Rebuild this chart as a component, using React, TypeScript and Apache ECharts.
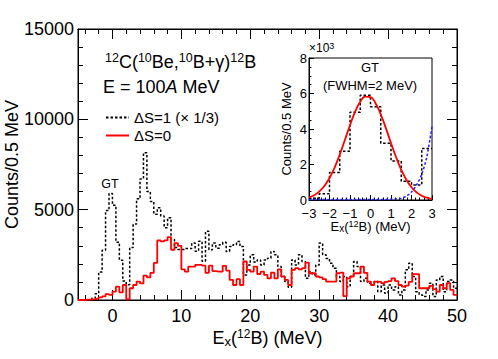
import React, { useEffect, useRef } from "react";
import * as echarts from "echarts";

const FONT = '"Liberation Sans", Arial, Helvetica, sans-serif';

// Histogram binning (MeV)
const BIN_START = -5;
const BIN_WIDTH = 0.5;
const X_MIN = -5;
const X_MAX = 50;

const S1_NAME = "\u0394S=1 (\u00d7 1/3)";
const S0_NAME = "\u0394S=0";

// ΔS=1 (×1/3) counts per 0.5 MeV, bins starting at -5 MeV
const dS1Counts = [
  0, 0, 0, 20, 100, 350, 1550, 2750, 4950, 5900,
  5250, 3200, 2200, 1050, 850, 2900, 4200, 5600, 6700, 8150,
  6000, 5450, 4750, 5100, 4650, 4000, 4550, 3350, 2900, 2800,
  2800, 2850, 2850, 3150, 2700, 3250, 2150, 3800, 2780, 3150,
  2870, 3060, 3190, 2690, 2960, 3060, 3240, 2960, 1390, 1940,
  2500, 2100, 2220, 1940, 2220, 2310, 2690, 2500, 1850, 1300,
  1020, 700, 2220, 1940, 2500, 2130, 1200, 1570, 1400, 1940,
  3150, 2500, 2300, 2040, 1760, 1300, 1020, 1300, 740, 1300,
  2130, 1850, 1020, 1200, 930, 960, 1020, 460, 830, 370,
  830, 560, 740, 280, 560, 1670, 2040, 1300, 460, 280,
  200, 560, 930, 200, 1110, 1300, 460, 1020, 1110, 650,
];

// ΔS=0 counts per 0.5 MeV, bins starting at -5 MeV
const dS0Counts = [
  0, 0, 20, 30, 50, 80, 150, 200, 330, 280,
  460, 740, 420, 830, 30, 650, 830, 1020, 920, 1350,
  1250, 1500, 2050, 3300, 3240, 3300, 3480, 2780, 3150, 3000,
  1700, 1570, 1850, 1850, 1940, 1940, 1900, 1500, 1900, 1600,
  1570, 1570, 1890, 1630, 1110, 830, 1150, 830, 2130, 1670,
  1570, 1850, 1440, 1570, 1390, 1200, 1520, 1200, 1700, 1300,
  1110, 830, 1670, 1760, 1700, 1760, 2070, 1480, 1480, 1300,
  1250, 1150, 1020, 1020, 1020, 1480, 1520, 220, 1200, 1300,
  1480, 1480, 1850, 1500, 1020, 830, 1020, 1000, 930, 1000,
  1050, 1200, 1050, 830, 740, 800, 1000, 1430, 1430, 650,
  650, 650, 780, 600, 460, 830, 650, 930, 560, 280,
];

// Inset: GT fit curve (×10^3)
const gaussX = [-3, -2.75, -2.5, -2.25, -2, -1.75, -1.5, -1.25, -1, -0.75, -0.5, -0.25, 0, 0.25, 0.5, 0.75, 1, 1.25, 1.5, 1.75, 2, 2.25, 2.5, 2.75, 3];
const gaussY = [0.15, 0.27, 0.48, 0.79, 1.24, 1.83, 2.56, 3.38, 4.21, 4.97, 5.53, 5.82, 5.79, 5.44, 4.83, 4.05, 3.21, 2.41, 1.7, 1.14, 0.72, 0.43, 0.24, 0.13, 0.06];

// Inset: background (blue dashed)
const bgX = [-3, -2, -1, 0, 0.5, 1, 1.25, 1.5, 1.75, 2, 2.25, 2.5, 2.75, 3];
const bgY = [0.03, 0.03, 0.03, 0.03, 0.03, 0.04, 0.06, 0.1, 0.22, 0.45, 0.85, 1.45, 2.45, 4.15];

// Tick values
const xMajorTicks = [0, 10, 20, 30, 40, 50];
const xMinorTicks = [-4, -2, 2, 4, 6, 8, 12, 14, 16, 18, 22, 24, 26, 28, 32, 34, 36, 38, 42, 44, 46, 48];
const insetXRange = [-3, 3];
const insetYRange = [0, 8];

function stepData(counts: number[], scale: number, lo: number, hi: number) {
  const pts: number[][] = [];
  let last = 0;
  counts.forEach((c, i) => {
    const x = BIN_START + i * BIN_WIDTH;
    if (x >= lo && x < hi) {
      pts.push([x, c * scale]);
      last = c * scale;
    }
  });
  pts.push([hi, last]);
  return pts;
}

const blk = "#000";

const richBase = (size: number, supSize: number, subSize: number) => ({
  n: { fontSize: size, lineHeight: size, fontFamily: FONT, color: blk, verticalAlign: "middle" },
  i: { fontSize: size, lineHeight: size, fontFamily: FONT, color: blk, fontStyle: "italic", verticalAlign: "middle" },
  sup: { fontSize: supSize, lineHeight: supSize, fontFamily: FONT, color: blk, verticalAlign: "middle", padding: [0, 0, Math.round(size * 0.42), 0] },
  sub: { fontSize: subSize, lineHeight: subSize, fontFamily: FONT, color: blk, verticalAlign: "middle", padding: [Math.round(size * 0.32), 0, 0, 0] },
});

const richZr = (size: number, supSize: number) => ({
  n: { fontSize: size, fontFamily: FONT, fill: blk, verticalAlign: "middle" },
  i: { fontSize: size, fontFamily: FONT, fill: blk, fontStyle: "italic", verticalAlign: "middle" },
  s: { fontSize: supSize, fontFamily: FONT, fill: blk, verticalAlign: "middle", padding: [0, 0, Math.round(size * 0.45), 0] },
});

const plain = (v: number) => String(v);
const minusFmt = (v: number) => (v < 0 ? "\u2212" + Math.abs(v) : String(v));

function buildOption() {
  const mainGrid = { left: 78, top: 29, width: 379, height: 271 };
  const insetGrid = { left: 309, top: 58, width: 123, height: 142 };
  const tickLine = { color: blk, width: 1 };

  return {
    animation: false,
    backgroundColor: "#fff",
    textStyle: { fontFamily: FONT },
    grid: [
      { ...mainGrid, show: true, borderColor: blk, borderWidth: 1, backgroundColor: "transparent", containLabel: false, outerBoundsMode: "none" },
      { ...mainGrid, show: false, containLabel: false, outerBoundsMode: "none" },
      { ...insetGrid, show: true, borderColor: blk, borderWidth: 1, backgroundColor: "#fff", containLabel: false, outerBoundsMode: "none" },
    ],
    legend: {
      data: [S1_NAME, S0_NAME],
      orient: "vertical",
      left: 105,
      top: 110,
      padding: 0,
      itemWidth: 23,
      itemHeight: 14,
      itemGap: 3,
      itemStyle: { opacity: 0, color: "transparent", borderWidth: 0 },
      textStyle: { fontSize: 15, fontFamily: FONT, color: blk },
    },
    xAxis: [
      {
        gridIndex: 0, type: "value", position: "bottom", min: X_MIN, max: X_MAX,
        axisLine: { show: true, onZero: false, lineStyle: tickLine },
        axisTick: { show: true, inside: true, length: 10, customValues: xMajorTicks, lineStyle: tickLine },
        axisLabel: { show: true, customValues: xMajorTicks, fontSize: 18, fontFamily: FONT, color: blk, margin: 7, formatter: plain },
        splitLine: { show: false },
        name: "{n|E}{sub|x}{n|(}{sup|12}{n|B) (MeV)}",
        nameLocation: "middle",
        nameGap: 29,
        nameMoveOverlap: false,
        nameTextStyle: { fontSize: 18, fontFamily: FONT, color: blk, rich: richBase(18, 12, 13) },
      },
      {
        gridIndex: 0, type: "value", position: "top", min: X_MIN, max: X_MAX,
        axisLine: { show: true, onZero: false, lineStyle: tickLine },
        axisTick: { show: true, inside: true, length: 10, customValues: xMajorTicks, lineStyle: tickLine },
        axisLabel: { show: false },
        splitLine: { show: false },
      },
      {
        gridIndex: 1, type: "value", position: "bottom", min: X_MIN, max: X_MAX,
        axisLine: { show: false, onZero: false },
        axisTick: { show: true, inside: true, length: 5, customValues: xMinorTicks, lineStyle: tickLine },
        axisLabel: { show: false },
        splitLine: { show: false },
      },
      {
        gridIndex: 1, type: "value", position: "top", min: X_MIN, max: X_MAX,
        axisLine: { show: false, onZero: false },
        axisTick: { show: true, inside: true, length: 5, customValues: xMinorTicks, lineStyle: tickLine },
        axisLabel: { show: false },
        splitLine: { show: false },
      },
      {
        gridIndex: 2, type: "value", position: "bottom", min: insetXRange[0], max: insetXRange[1], interval: 1,
        axisLine: { show: true, onZero: false, lineStyle: tickLine },
        axisTick: { show: true, inside: true, length: 5, lineStyle: tickLine },
        minorTick: { show: true, splitNumber: 5, length: 2.5, lineStyle: tickLine },
        axisLabel: { show: true, fontSize: 13, lineHeight: 10, fontFamily: FONT, color: blk, margin: 8, formatter: minusFmt },
        splitLine: { show: false },
        minorSplitLine: { show: false },
        name: "{n|E}{sub|x}{n|(}{sup|12}{n|B) (MeV)}",
        nameLocation: "middle",
        nameGap: 20,
        nameMoveOverlap: false,
        nameTextStyle: { fontSize: 13, lineHeight: 13, fontFamily: FONT, color: blk, rich: richBase(13, 9, 10) },
      },
    ],
    yAxis: [
      {
        gridIndex: 0, type: "value", position: "left", min: 0, max: 15000, interval: 5000,
        axisLine: { show: true, onZero: false, lineStyle: tickLine },
        axisTick: { show: true, inside: true, length: 10, lineStyle: tickLine },
        minorTick: { show: true, splitNumber: 5, length: 5, lineStyle: tickLine },
        axisLabel: { show: true, fontSize: 18, fontFamily: FONT, color: blk, margin: 4, formatter: plain },
        splitLine: { show: false },
        minorSplitLine: { show: false },
        name: "Counts/0.5 MeV",
        nameLocation: "middle",
        nameRotate: 90,
        nameGap: 57,
        nameMoveOverlap: false,
        nameTextStyle: { fontSize: 18, fontFamily: FONT, color: blk },
      },
      {
        gridIndex: 0, type: "value", position: "right", min: 0, max: 15000, interval: 5000,
        axisLine: { show: true, onZero: false, lineStyle: tickLine },
        axisTick: { show: true, inside: true, length: 10, lineStyle: tickLine },
        minorTick: { show: true, splitNumber: 5, length: 5, lineStyle: tickLine },
        axisLabel: { show: false },
        splitLine: { show: false },
        minorSplitLine: { show: false },
      },
      { gridIndex: 1, type: "value", min: 0, max: 1, show: false },
      {
        gridIndex: 2, type: "value", position: "left", min: insetYRange[0], max: insetYRange[1], interval: 2,
        axisLine: { show: true, onZero: false, lineStyle: tickLine },
        axisTick: { show: true, inside: true, length: 5, lineStyle: tickLine },
        minorTick: { show: true, splitNumber: 4, length: 2.5, lineStyle: tickLine },
        axisLabel: { show: true, fontSize: 13, lineHeight: 10, fontFamily: FONT, color: blk, margin: 2, formatter: plain },
        splitLine: { show: false },
        minorSplitLine: { show: false },
        name: "Counts/0.5 MeV",
        nameLocation: "middle",
        nameRotate: 90,
        nameGap: 16,
        nameMoveOverlap: false,
        nameTextStyle: { fontSize: 13, fontFamily: FONT, color: blk },
      },
    ],
    series: [
      {
        name: S1_NAME, type: "line", xAxisIndex: 0, yAxisIndex: 0, step: "end",
        data: stepData(dS1Counts, 1, X_MIN, X_MAX), symbol: "none", z: 3,
        lineStyle: { color: blk, width: 1.5, type: [2.5, 2] }, itemStyle: { color: blk },
      },
      {
        name: S0_NAME, type: "line", xAxisIndex: 0, yAxisIndex: 0, step: "end",
        data: stepData(dS0Counts, 1, X_MIN, X_MAX), symbol: "none", z: 4,
        lineStyle: { color: "#ff0000", width: 1.8 }, itemStyle: { color: "#ff0000" },
      },
      {
        name: "inset-hist", type: "line", xAxisIndex: 4, yAxisIndex: 3, step: "end",
        data: stepData(dS1Counts, 0.001, insetXRange[0], insetXRange[1]), symbol: "none", z: 3,
        lineStyle: { color: blk, width: 1.5, type: [2.5, 2] },
      },
      {
        name: "inset-fit", type: "line", xAxisIndex: 4, yAxisIndex: 3, smooth: true,
        data: gaussX.map((x, i) => [x, gaussY[i]]), symbol: "none", z: 4,
        lineStyle: { color: "#ff0000", width: 1.8 },
      },
      {
        name: "inset-bg", type: "line", xAxisIndex: 4, yAxisIndex: 3, smooth: 0.3,
        data: bgX.map((x, i) => [x, bgY[i]]), symbol: "none", z: 4,
        lineStyle: { color: "#2222ff", width: 1.5, type: [2.5, 2] },
      },
    ],
    graphic: [
      {
        type: "text", x: 105, y: 62,
        style: {
          text: "{s|12}{n|C(}{s|10}{n|Be,}{s|10}{n|B+\u03b3)}{s|12}{n|B}",
          rich: richZr(18, 12.5), verticalAlign: "middle", align: "left", fill: blk,
        },
      },
      {
        type: "text", x: 103, y: 87,
        style: { text: "{n|E = 100}{i|A}{n| MeV}", rich: richZr(18, 12), verticalAlign: "middle", align: "left", fill: blk },
      },
      {
        type: "text", x: 110, y: 184,
        style: { text: "GT", fontSize: 12.5, fontFamily: FONT, fill: blk, align: "center", verticalAlign: "middle" },
      },
      {
        type: "text", x: 370, y: 67,
        style: { text: "GT", fontSize: 13, fontFamily: FONT, fill: blk, align: "center", verticalAlign: "middle" },
      },
      {
        type: "text", x: 370, y: 85,
        style: { text: "(FWHM=2 MeV)", fontSize: 13, fontFamily: FONT, fill: blk, align: "center", verticalAlign: "middle" },
      },
      {
        type: "text", x: 309, y: 48,
        style: { text: "{n|\u00d710}{s|3}", rich: richZr(12, 9), verticalAlign: "middle", align: "left", fill: blk },
      },
    ],
  };
}

export default function App() {
  const ref = useRef<HTMLDivElement>(null);
  useEffect(() => {
    if (!ref.current) return;
    const chart = echarts.init(ref.current, null, { renderer: "svg" });
    chart.setOption(buildOption() as any);
    return () => chart.dispose();
  }, []);
  return <div ref={ref} style={{ position: "absolute", left: 0, top: 0, width: 498, height: 359 }} />;
}
